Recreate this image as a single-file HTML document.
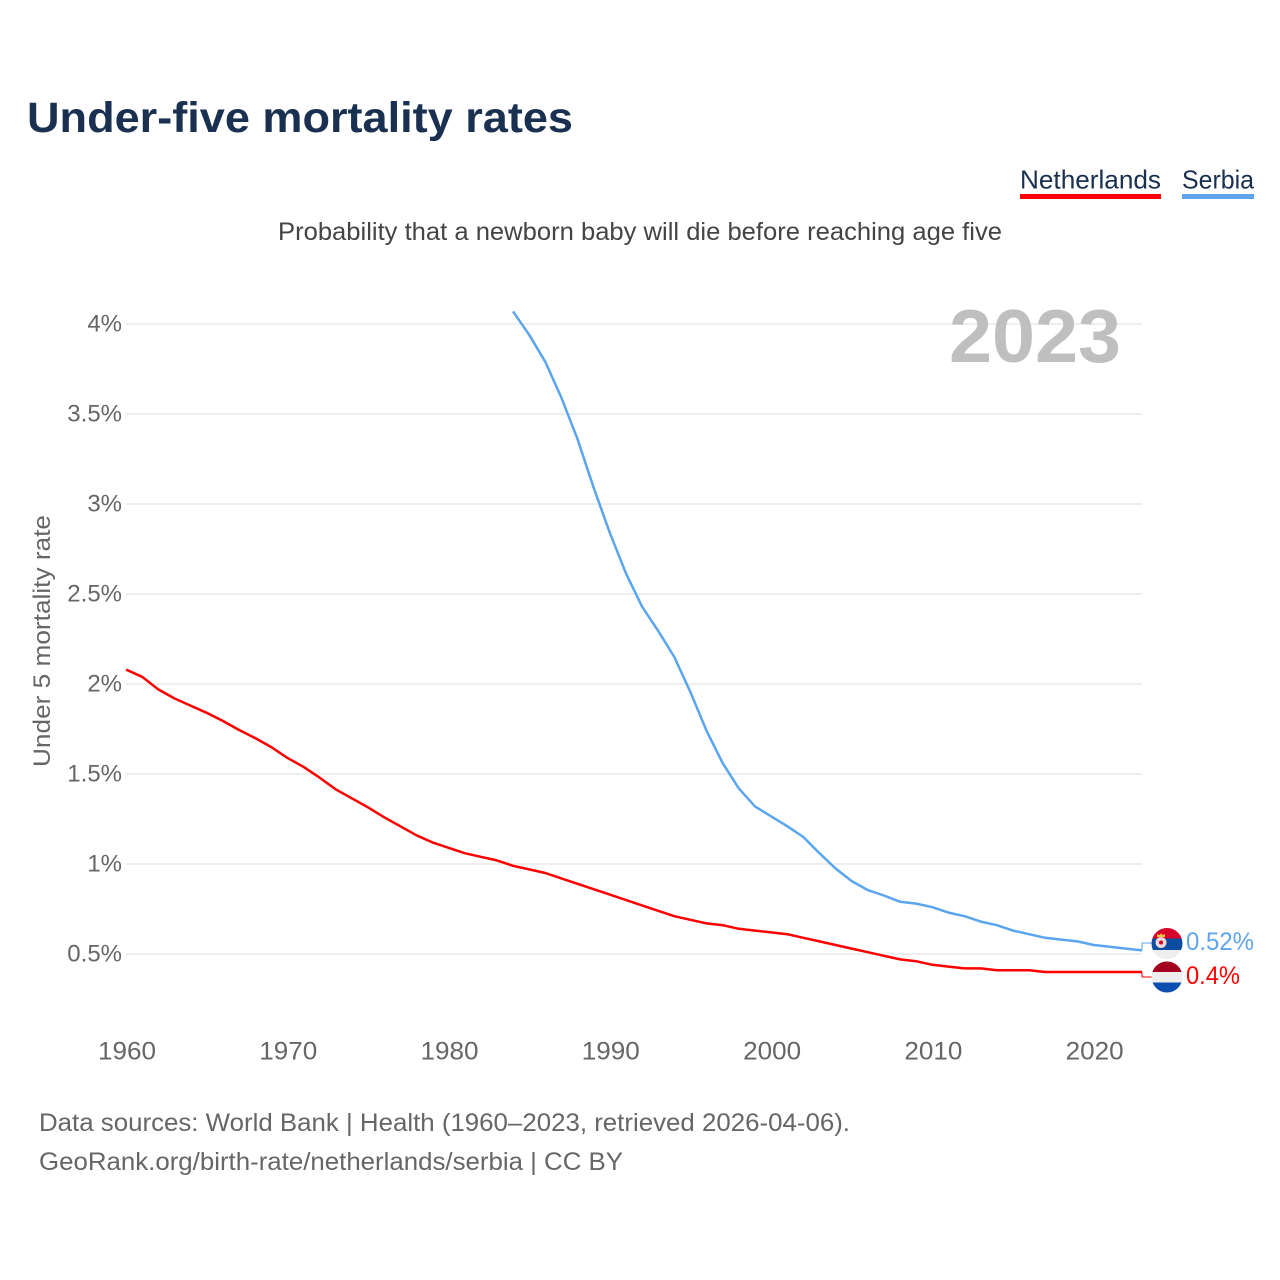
<!DOCTYPE html>
<html lang="en">
<head>
<meta charset="utf-8">
<title>Under-five mortality rates</title>
<style>
html,body{margin:0;padding:0;background:#fff;width:1280px;height:1280px;overflow:hidden}
svg{display:block}
text{font-family:"Liberation Sans",sans-serif}
</style>
</head>
<body>
<svg id="chart" xmlns="http://www.w3.org/2000/svg" width="1280" height="1280" viewBox="0 0 1280 1280">
  <text x="27" y="132" font-size="43" font-weight="700" fill="#1a3050" textLength="546" lengthAdjust="spacingAndGlyphs">Under-five mortality rates</text>
  <g>
    <text x="1020" y="188.5" font-size="26" fill="#1a3050" textLength="141" lengthAdjust="spacingAndGlyphs">Netherlands</text>
    <rect x="1020" y="194" width="141" height="5" fill="#ff0000"/>
  </g>
  <g>
    <text x="1182" y="188.5" font-size="26" fill="#1a3050" textLength="72" lengthAdjust="spacingAndGlyphs">Serbia</text>
    <rect x="1182" y="194" width="72" height="5" fill="#60a5ec"/>
  </g>
  <text x="278" y="240" font-size="25" fill="#444" textLength="724" lengthAdjust="spacingAndGlyphs">Probability that a newborn baby will die before reaching age five</text>
  <text transform="translate(50,767) rotate(-90)" font-size="24" fill="#666" textLength="252" lengthAdjust="spacingAndGlyphs">Under 5 mortality rate</text>
  <g id="grid"></g>
  <g id="yticks"></g>
  <g id="xticks"></g>
  <text x="1121" y="362" text-anchor="end" font-size="75" font-weight="700" fill="#bfbfbf" textLength="172" lengthAdjust="spacingAndGlyphs">2023</text>
  <g id="series"></g>
  <defs>
    <clipPath id="clip-rs"><circle cx="1167" cy="943.5" r="15.5"/></clipPath>
    <clipPath id="clip-nl"><circle cx="1167" cy="977" r="15.5"/></clipPath>
  </defs>
  <g clip-path="url(#clip-rs)">
    <rect x="1150" y="926" width="34" height="12.5" fill="#d6002a"/>
    <rect x="1150" y="938.5" width="34" height="11.5" fill="#0c4da2"/>
    <rect x="1150" y="950" width="34" height="11" fill="#eeeeee"/>
    <path d="M1157 937 L1157 934 L1159 935 L1161 933.5 L1163 935 L1165 934 L1165 937 Z" fill="#f5c040"/>
    <circle cx="1161" cy="942.5" r="5.5" fill="#f0d8d8"/>
    <circle cx="1161" cy="942.5" r="2" fill="#d6002a"/>
  </g>
  <g clip-path="url(#clip-nl)">
    <rect x="1150" y="960" width="34" height="12" fill="#a2001d"/>
    <rect x="1150" y="972" width="34" height="10.5" fill="#eeeeee"/>
    <rect x="1150" y="982.5" width="34" height="12" fill="#0b50b0"/>
  </g>
  <text x="1186" y="950" font-size="25" fill="#60a5ec" textLength="68" lengthAdjust="spacingAndGlyphs">0.52%</text>
  <text x="1186" y="984" font-size="25" fill="#ff0000" textLength="54" lengthAdjust="spacingAndGlyphs">0.4%</text>
  <text x="39" y="1131" font-size="25" fill="#666" textLength="811" lengthAdjust="spacingAndGlyphs">Data sources: World Bank | Health (1960–2023, retrieved 2026-04-06).</text>
  <text x="39" y="1170" font-size="25" fill="#666" textLength="584" lengthAdjust="spacingAndGlyphs">GeoRank.org/birth-rate/netherlands/serbia | CC BY</text>
</svg>
<script>
const yTickValues = [0.5, 1, 1.5, 2, 2.5, 3, 3.5, 4];
const yTickLabels = ["0.5%", "1%", "1.5%", "2%", "2.5%", "3%", "3.5%", "4%"];
const xTickYears = [1960, 1970, 1980, 1990, 2000, 2010, 2020];
const netherlandsStartYear = 1960;
const netherlandsValues = [2.08,2.04,1.97,1.92,1.88,1.84,1.795,1.745,1.70,1.65,1.59,1.54,1.48,1.415,1.365,1.315,1.26,1.21,1.16,1.12,1.09,1.06,1.04,1.02,0.99,0.97,0.95,0.92,0.89,0.86,0.83,0.80,0.77,0.74,0.71,0.69,0.67,0.66,0.64,0.63,0.62,0.61,0.59,0.57,0.55,0.53,0.51,0.49,0.47,0.46,0.44,0.43,0.42,0.42,0.41,0.41,0.41,0.40,0.40,0.40,0.40,0.40,0.40,0.40];
const serbiaStartYear = 1984;
const serbiaValues = [4.07,3.94,3.79,3.59,3.36,3.09,2.84,2.615,2.43,2.295,2.15,1.955,1.74,1.56,1.42,1.32,1.265,1.21,1.15,1.06,0.975,0.905,0.855,0.825,0.79,0.78,0.76,0.73,0.71,0.68,0.66,0.63,0.61,0.59,0.58,0.57,0.55,0.54,0.53,0.52];

const NS = 'http://www.w3.org/2000/svg';
const xScale = year => 126 + (year - 1960) * (1016 / 63);
const yScale = value => 1044 - value * 180;
const lastYear = 2023;

function make(parent, tag, attrs, text) {
  const el = document.createElementNS(NS, tag);
  Object.keys(attrs).forEach(k => el.setAttribute(k, attrs[k]));
  if (text !== undefined) el.textContent = text;
  parent.appendChild(el);
  return el;
}

const grid = document.getElementById('grid');
const yticks = document.getElementById('yticks');
yTickValues.forEach((v, i) => {
  const line = make(grid, 'line', {x1: 126, x2: xScale(lastYear), y1: yScale(v), y2: yScale(v), stroke: '#eeeeee', 'stroke-width': 2});
  
  
  const label = make(yticks, 'text', {x: 122, y: yScale(v) + 7.5, 'text-anchor': 'end', 'font-size': 24, fill: '#666'}, yTickLabels[i]);
  
  
});

const xticks = document.getElementById('xticks');
xTickYears.forEach(year => {
  const label = make(xticks, 'text', {x: xScale(year) + 1, y: 1059.5, 'text-anchor': 'middle', 'font-size': 25, fill: '#666', textLength: 58, lengthAdjust: 'spacingAndGlyphs'}, String(year));
  
  
});

const seriesGroup = document.getElementById('series');
function pathFor(values, startYear) {
  return values.map((v, i) => (i ? 'L' : 'M') + xScale(startYear + i).toFixed(2) + ' ' + yScale(v).toFixed(2)).join(' ');
}
function connector(value, labelY) {
  const ex = xScale(lastYear), ey = yScale(value);
  return 'M' + ex.toFixed(2) + ' ' + ey.toFixed(2) + ' L' + ex.toFixed(2) + ' ' + labelY + ' L1152 ' + labelY;
}

const netherlandsLine = make(seriesGroup, 'path', {d: pathFor(netherlandsValues, netherlandsStartYear), fill: 'none', stroke: '#ff0000', 'stroke-width': 2.5, 'stroke-linejoin': 'round'});


const netherlandsConnector = make(seriesGroup, 'path', {d: connector(netherlandsValues[netherlandsValues.length - 1], 977), fill: 'none', stroke: '#ff0000', 'stroke-width': 1});



const serbiaLine = make(seriesGroup, 'path', {d: pathFor(serbiaValues, serbiaStartYear), fill: 'none', stroke: '#5aa5ee', 'stroke-width': 2.5, 'stroke-linejoin': 'round'});


const serbiaConnector = make(seriesGroup, 'path', {d: connector(serbiaValues[serbiaValues.length - 1], 943), fill: 'none', stroke: '#5aa5ee', 'stroke-width': 1});


</script>
</body>
</html>
